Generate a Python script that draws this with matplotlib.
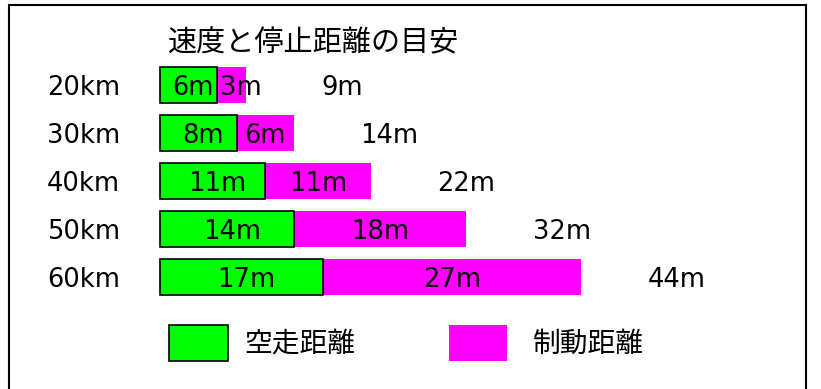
import matplotlib.pyplot as plt
from matplotlib.patches import Rectangle

plt.rcParams['font.family'] = ['Noto Sans CJK JP', 'DejaVu Sans']

speeds = ['20km', '30km', '40km', '50km', '60km']
free_run = [6, 8, 11, 14, 17]      # 空走距離
braking = [3, 6, 11, 18, 27]       # 制動距離
totals = [a + b for a, b in zip(free_run, braking)]

GREEN = '#00ff00'
MAGENTA = '#ff00ff'

W, H = 821, 389
fig = plt.figure(figsize=(W / 100, H / 100), dpi=100)
ax = fig.add_axes([0, 0, 1, 1])

# pixel mapping: x = 160 + 9.57 px per m, rows 48.1 px apart starting at y=85
px_m = 9.57
ax.set_xlim(-160 / px_m, (W - 160) / px_m)
ax.set_ylim((H - 85) / 48.1, -85 / 48.1)
ax.axis('off')

rows = range(len(speeds))
ax.barh(rows, free_run, height=0.75, color=GREEN, edgecolor='black', linewidth=1.2, zorder=3)
ax.barh(rows, braking, left=free_run, height=0.75, color=MAGENTA, linewidth=0, zorder=2)

num = dict(fontsize=18.5, family=['DejaVu Sans'], va='center', zorder=4)
dy = 0.06  # text sits slightly below bar centre
for i, (sp, a, b, t) in enumerate(zip(speeds, free_run, braking, totals)):
    ax.text(47 / W, i + dy, sp, transform=ax.get_yaxis_transform(), ha='left', **num)
    ax.text(a / 2 + 0.5, i + dy, f'{a}m', ha='center', **num)
    if b < 5:
        ax.text(a + 0.3, i + dy, f'{b}m', ha='left', **num)
    else:
        ax.text(a + b / 2, i + dy, f'{b}m', ha='center', **num)
    ax.text(t + 10, i + dy, f'{t}m', ha='center', **num)

fig.text(168 / W, 1 - 43 / H, '速度と停止距離の目安', ha='left', va='center', fontsize=21)

# legend
fig.patches.append(Rectangle((169 / W, 1 - 361 / H), 59 / W, 36 / H, transform=fig.transFigure,
                             facecolor=GREEN, edgecolor='black', linewidth=1.2))
fig.patches.append(Rectangle((449 / W, 1 - 361 / H), 58 / W, 36 / H, transform=fig.transFigure,
                             facecolor=MAGENTA, edgecolor='none'))
fig.text(244 / W, 1 - 344 / H, '空走距離', ha='left', va='center', fontsize=20)
fig.text(533 / W, 1 - 344 / H, '制動距離', ha='left', va='center', fontsize=20)

# outer frame
fig.patches.append(Rectangle((8.5 / W, -0.05), (806 - 8.5) / W, 1.05 - 5.5 / H,
                             transform=fig.transFigure, fill=False, edgecolor='black', linewidth=1.5))

fig.savefig('out.png', dpi=100)
